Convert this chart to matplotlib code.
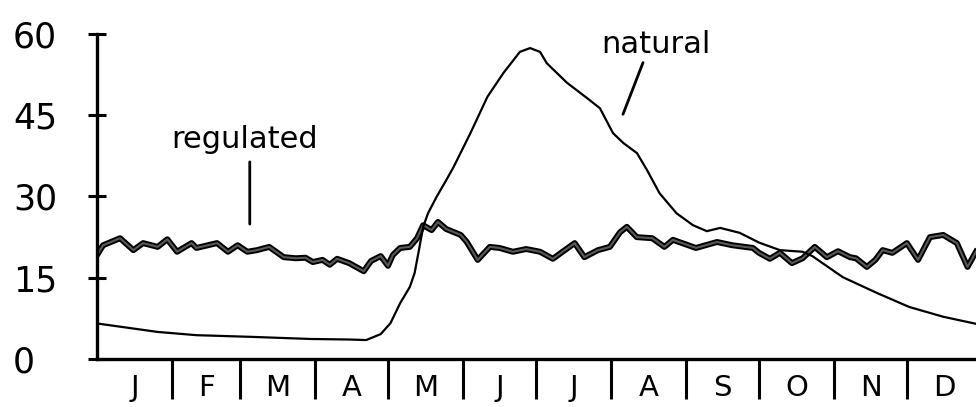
import matplotlib
matplotlib.use('Agg')
import matplotlib.pyplot as plt
import numpy as np

# day of year / discharge
natural_day = [0, 1, 25, 41, 63, 88, 104, 111, 117, 121, 125, 129, 131, 133, 134.5, 136.5,
               140, 144, 147, 154, 161, 167.6, 174.4, 178.6, 182.7, 185.5, 193.8, 202, 207.4,
               212.8, 217, 222.7, 226.8, 232, 239, 245.8, 251.5, 257, 265, 273, 281.6, 291,
               295, 307.6, 321.6, 335, 349, 362.5]
natural_val = [6.6, 6.5, 5.0, 4.4, 4.1, 3.7, 3.6, 3.5, 4.6, 6.6, 10.3, 13.3, 15.9, 20.7, 24.4, 26.9,
               29.9, 33.0, 35.4, 41.7, 48.4, 52.8, 56.7, 57.4, 56.7, 54.6, 51.0, 48.2, 46.3,
               41.7, 39.9, 38.0, 34.9, 30.6, 26.9, 24.7, 23.6, 24.2, 23.3, 21.5, 20.1, 19.8,
               19.0, 15.1, 12.2, 9.6, 7.8, 6.5]

regulated_day = [0, 2.5, 9.5, 15, 19, 25, 29, 33, 39, 41, 49.5, 54, 58, 62, 66, 71, 77, 82, 86,
                 89, 93, 96, 99, 104, 110, 113, 117, 120, 122, 125, 129, 132, 134.5, 138, 140.6,
                 144, 150, 152.5, 157, 162, 166, 171.5, 177, 182.7, 188, 192, 197, 201, 206.6,
                 211.5, 215.7, 218.5, 222.6, 229, 234, 237.5, 247, 255.7, 262, 270.5, 273,
                 277.5, 281.6, 286.6, 291, 296, 301, 305.6, 310.5, 313, 317.5, 321, 324, 328,
                 334, 338.6, 343.5, 349, 354.6, 359, 362.5]
regulated_val = [19.2, 21.0, 22.3, 20.1, 21.4, 20.7, 22.1, 19.8, 21.4, 20.5, 21.4, 19.8, 21.0, 19.8,
                 20.1, 20.7, 18.8, 18.6, 18.7, 17.9, 18.3, 17.4, 18.5, 17.7, 16.2, 18.1, 19.0,
                 17.2, 19.2, 20.5, 20.7, 22.3, 24.7, 23.8, 25.3, 24.0, 22.9, 21.6, 18.3, 20.7,
                 20.5, 19.8, 20.3, 19.8, 18.5, 19.8, 21.4, 18.8, 20.1, 20.7, 23.4, 24.4, 22.5,
                 22.3, 20.7, 22.0, 20.5, 21.6, 21.0, 20.5, 19.6, 18.5, 19.6, 17.7, 18.6, 20.7,
                 18.8, 19.9, 18.8, 18.6, 17.0, 18.3, 20.1, 19.6, 21.4, 18.3, 22.5, 22.9, 21.4,
                 17.0, 19.8]

month_edges = [0, 31, 59, 90, 120, 151, 181, 212, 243, 273, 304, 334, 365]
month_labels = ['J', 'F', 'M', 'A', 'M', 'J', 'J', 'A', 'S', 'O', 'N', 'D']
y_ticks = [0, 15, 30, 45, 60]

plt.rcParams['font.family'] = ['DejaVu Sans']

fig = plt.figure(figsize=(9.76, 4.07), dpi=100)
ax = fig.add_axes([0.0994, 0.1179, 0.9006, 0.7986])

ax.plot(regulated_day, regulated_val, color='black', lw=4.3, solid_joinstyle='round')
ax.plot(regulated_day, regulated_val, color='#5a5a5a', lw=1.5, solid_joinstyle='round')
ax.plot(natural_day, natural_val, color='black', lw=1.6)

ax.set_xlim(0, 362.5)
ax.set_ylim(0, 60)

for s in ['top', 'right']:
    ax.spines[s].set_visible(False)
ax.spines['left'].set_linewidth(2.4)
ax.spines['bottom'].set_linewidth(2.4)

mid = [(month_edges[i] + month_edges[i + 1]) / 2 for i in range(12)]
ax.set_xticks(mid)
ax.set_xticklabels(month_labels, fontsize=21)
ax.set_xticks(month_edges[1:-1], minor=True)
ax.tick_params(axis='x', which='major', length=0, pad=11)
ax.tick_params(axis='x', which='minor', direction='out', length=29, width=2.2)

ax.set_yticks(y_ticks)
ax.set_yticklabels([str(v) for v in y_ticks], fontsize=25)
ax.tick_params(axis='y', direction='inout', length=13, width=2.2, pad=54)
for lab in ax.get_yticklabels():
    lab.set_horizontalalignment('left')

ax.annotate('', xy=(63, 24.4), xytext=(63, 36.9),
            arrowprops=dict(arrowstyle='-', color='black', lw=2))
ax.text(61, 39, 'regulated', fontsize=22, ha='center', va='baseline')

ax.annotate('', xy=(216.5, 44.7), xytext=(225.6, 55.2),
            arrowprops=dict(arrowstyle='-', color='black', lw=2))
ax.text(230.5, 56.5, 'natural', fontsize=22, ha='center', va='baseline')

plt.savefig('out.png', dpi=100)
